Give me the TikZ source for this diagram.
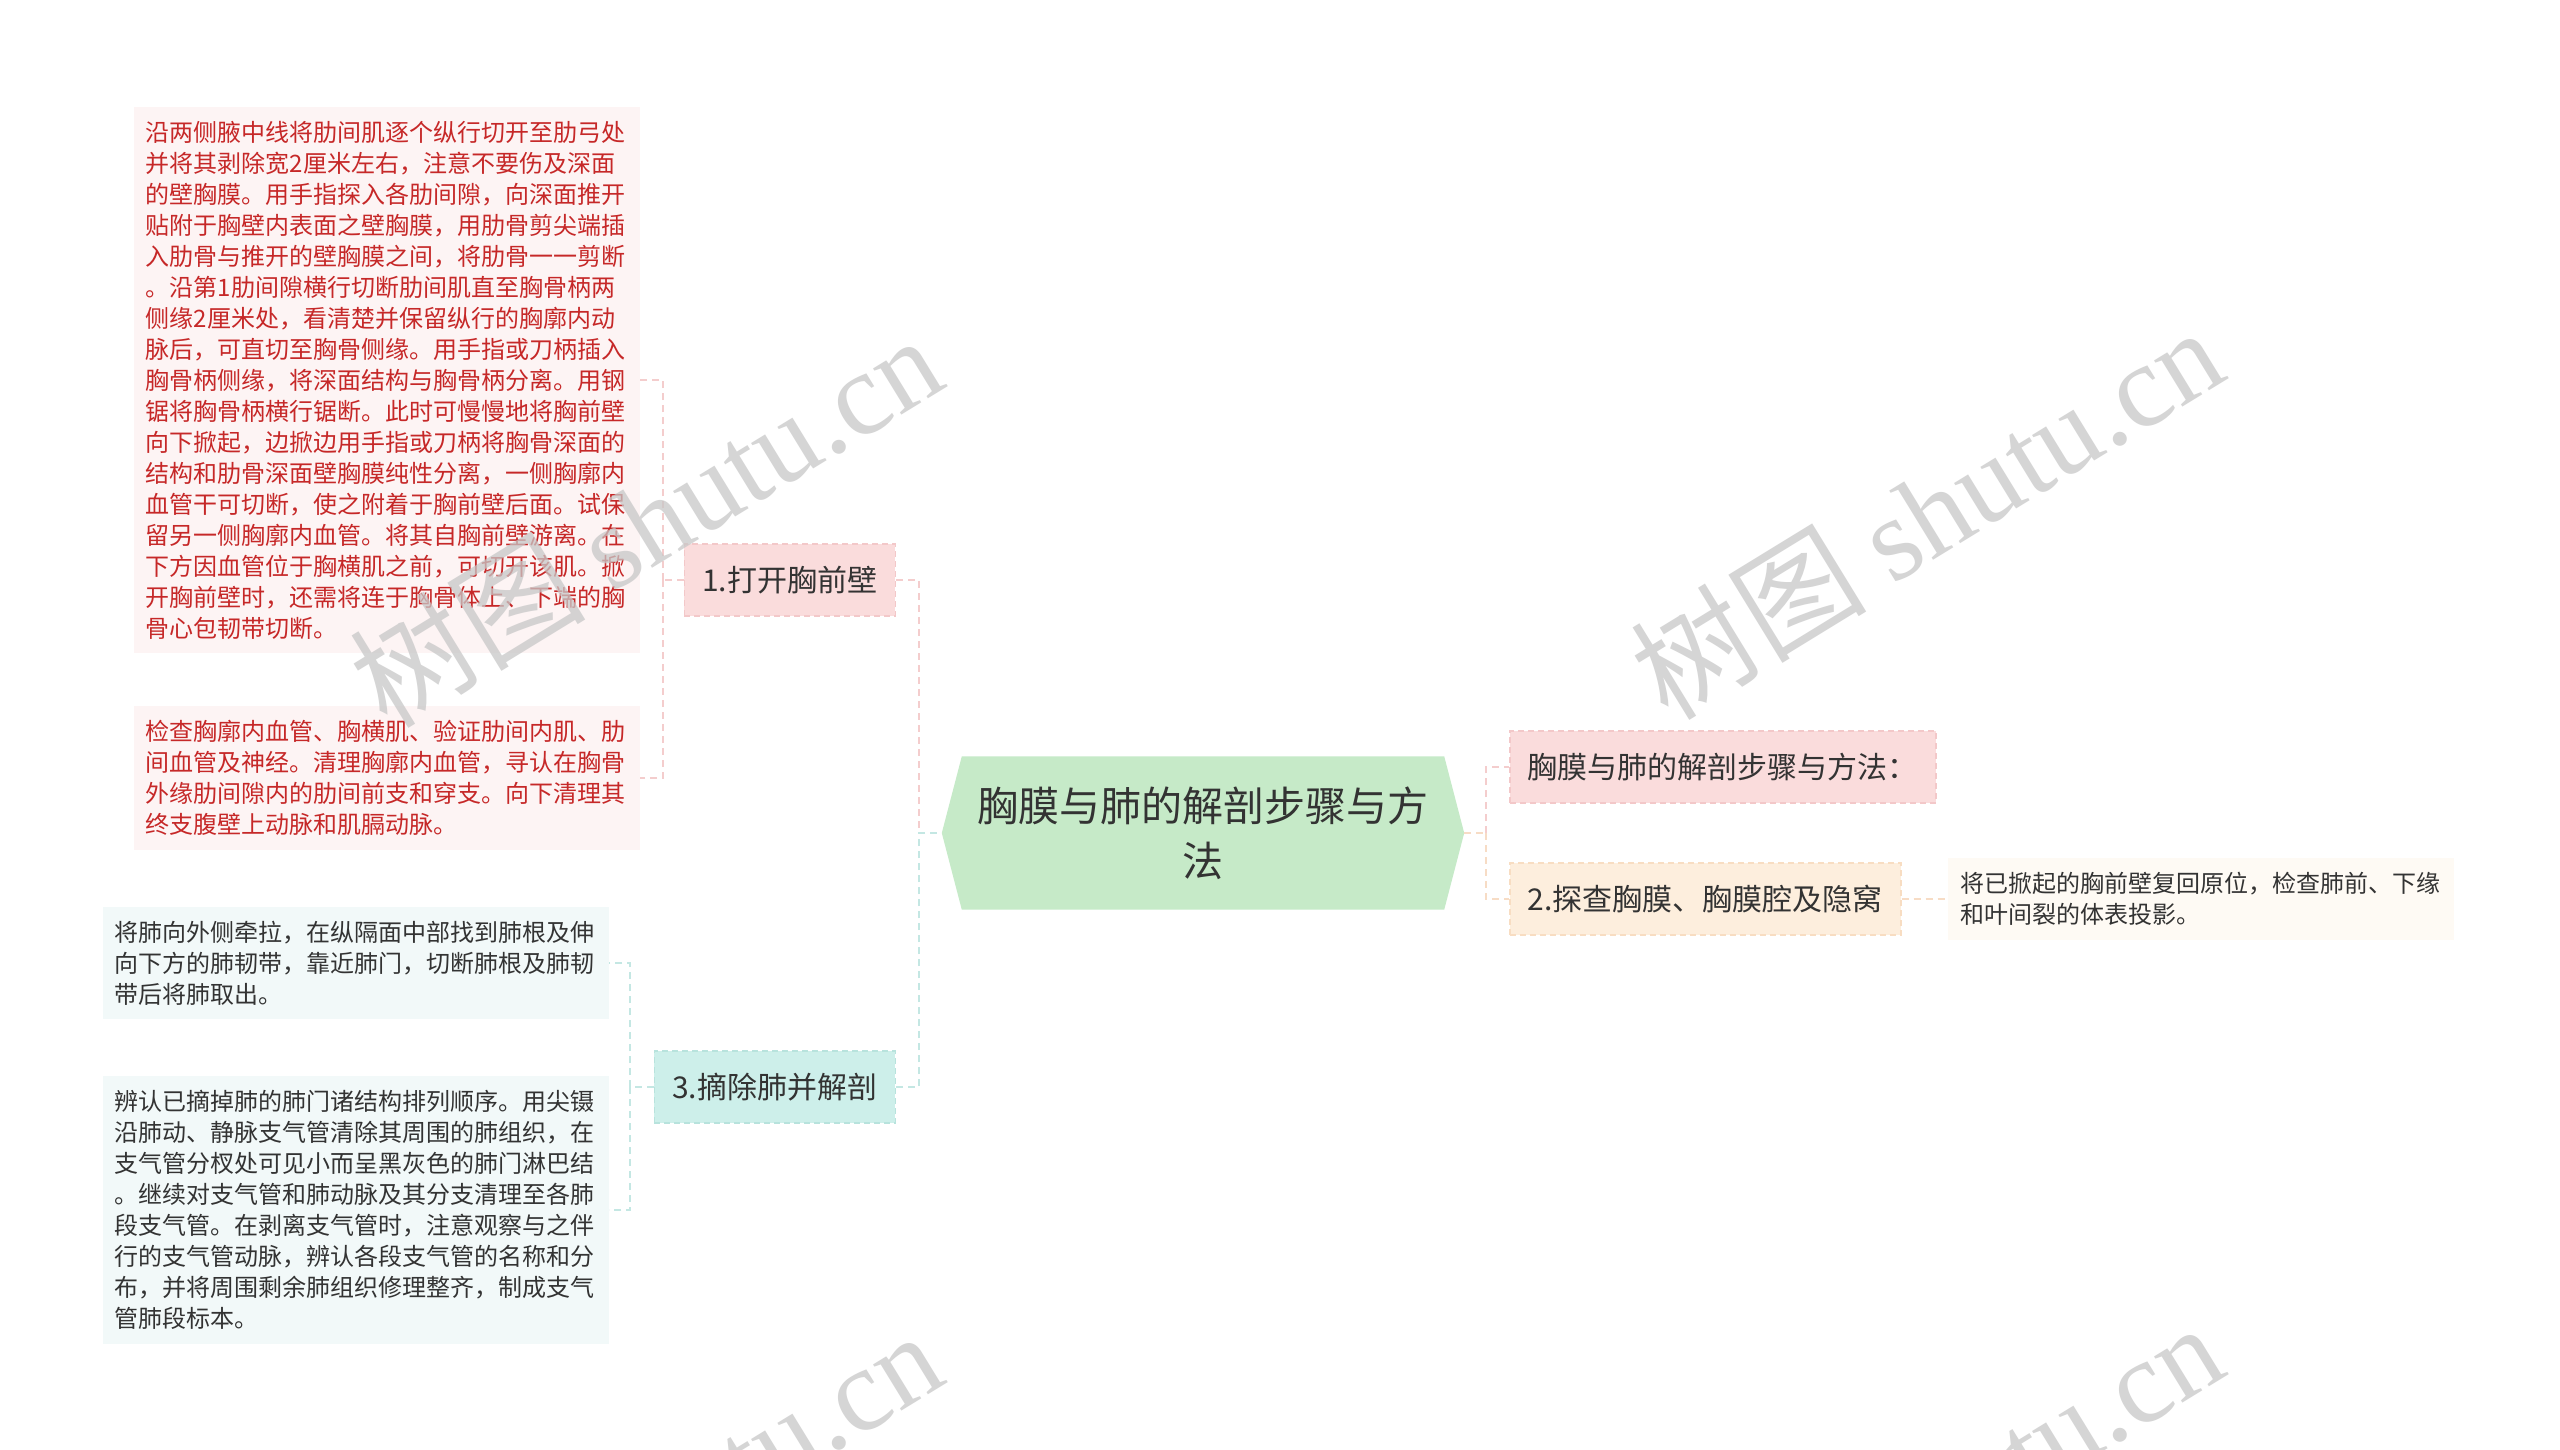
\documentclass[tikz,border=0pt]{standalone}
\usepackage{fontspec}
\setmainfont{Noto Sans CJK SC}
\newfontfamily\wmfont{Liberation Serif}
\usetikzlibrary{backgrounds}

\definecolor{redtext}{HTML}{C62828}
\definecolor{darktext}{HTML}{333333}
\definecolor{pinkfill}{HTML}{FADCDC}
\definecolor{pinkedge}{HTML}{F3C8C9}
\definecolor{tealfill}{HTML}{CDEFEA}
\definecolor{tealedge}{HTML}{B8E3DD}
\definecolor{peachfill}{HTML}{FDEEDD}
\definecolor{peachedge}{HTML}{F8DDC2}
\definecolor{greenfill}{HTML}{C6EAC8}
\definecolor{leafpink}{HTML}{FDF4F4}
\definecolor{leafteal}{HTML}{F2F9F9}
\definecolor{leafpeach}{HTML}{FEFAF4}
\definecolor{pinkline}{HTML}{F4CDCD}
\definecolor{tealline}{HTML}{C4E7E3}
\definecolor{peachline}{HTML}{F7DCC5}

\tikzset{
    leaf/.style={text width=482pt, align=left, inner xsep=12pt, inner ysep=14pt,
        font=\fontsize{24}{31}\selectfont},
    branch/.style={minimum height=72pt, inner xsep=18pt, text=darktext,
        font=\fontsize{30}{36}\selectfont, dashed, dash pattern=on 6pt off 4pt, line width=1.5pt},
    link/.style={line width=2pt, dash pattern=on 7pt off 5pt},
    wm/.style={rotate=31.5, text=black!22, text opacity=0.75,
        font=\fontsize{118}{118}\selectfont}
}

\begin{document}
\begin{tikzpicture}[x=1pt, y=-1pt]
        \useasboundingbox (0,0) rectangle (2560,1449);

        % Central topic
        \node[align=center, text=darktext, font=\fontsize{41}{55}\selectfont,
            minimum width=522pt, minimum height=153pt] (ctr) at (1203,833)
            {胸膜与肺的解剖步骤与方\\法};
        \begin{pgfonlayer}{background}
            \fill[white] (0,0) rectangle (2560,1449);
            \fill[greenfill] (ctr.west) -- ([xshift=20pt]ctr.north west)
                -- ([xshift=-20pt]ctr.north east) -- (ctr.east)
                -- ([xshift=-20pt]ctr.south east) -- ([xshift=20pt]ctr.south west) -- cycle;
        \end{pgfonlayer}

        % Branches
        \node[branch, anchor=east, fill=pinkfill, draw=pinkedge] (open) at (896,580) {1.打开胸前壁};
        \node[branch, anchor=east, fill=tealfill, draw=tealedge] (lung) at (896,1087) {3.摘除肺并解剖};
        \node[branch, anchor=west, fill=pinkfill, draw=pinkedge] (steps) at (1509,767) {胸膜与肺的解剖步骤与方法：};
        \node[branch, anchor=west, fill=peachfill, draw=peachedge] (pleura) at (1509,899) {2.探查胸膜、胸膜腔及隐窝};

        % Details
        \node[leaf, anchor=east, fill=leafpink, text=redtext] (wall) at (640,380) {沿两侧腋中线将肋间肌逐个纵行切开至肋弓处\\
并将其剥除宽2厘米左右，注意不要伤及深面\\
的壁胸膜。用手指探入各肋间隙，向深面推开\\
贴附于胸壁内表面之壁胸膜，用肋骨剪尖端插\\
入肋骨与推开的壁胸膜之间，将肋骨一一剪断\\
。沿第1肋间隙横行切断肋间肌直至胸骨柄两\\
侧缘2厘米处，看清楚并保留纵行的胸廓内动\\
脉后，可直切至胸骨侧缘。用手指或刀柄插入\\
胸骨柄侧缘，将深面结构与胸骨柄分离。用钢\\
锯将胸骨柄横行锯断。此时可慢慢地将胸前壁\\
向下掀起，边掀边用手指或刀柄将胸骨深面的\\
结构和肋骨深面壁胸膜纯性分离，一侧胸廓内\\
血管干可切断，使之附着于胸前壁后面。试保\\
留另一侧胸廓内血管。将其自胸前壁游离。在\\
下方因血管位于胸横肌之前，可切开该肌。掀\\
开胸前壁时，还需将连于胸骨体上、下端的胸\\
骨心包韧带切断。};
        \node[leaf, anchor=east, fill=leafpink, text=redtext] (vessel) at (640,778) {检查胸廓内血管、胸横肌、验证肋间内肌、肋\\
间血管及神经。清理胸廓内血管，寻认在胸骨\\
外缘肋间隙内的肋间前支和穿支。向下清理其\\
终支腹壁上动脉和肌膈动脉。};
        \node[leaf, anchor=east, fill=leafteal, text=darktext] (takeout) at (609,963) {将肺向外侧牵拉，在纵隔面中部找到肺根及伸\\
向下方的肺韧带，靠近肺门，切断肺根及肺韧\\
带后将肺取出。};
        \node[leaf, anchor=east, fill=leafteal, text=darktext] (hilum) at (609,1210) {辨认已摘掉肺的肺门诸结构排列顺序。用尖镊\\
沿肺动、静脉支气管清除其周围的肺组织，在\\
支气管分杈处可见小而呈黑灰色的肺门淋巴结\\
。继续对支气管和肺动脉及其分支清理至各肺\\
段支气管。在剥离支气管时，注意观察与之伴\\
行的支气管动脉，辨认各段支气管的名称和分\\
布，并将周围剩余肺组织修理整齐，制成支气\\
管肺段标本。};
        \node[leaf, anchor=west, fill=leafpeach, text=darktext] (reset) at (1948,899) {将已掀起的胸前壁复回原位，检查肺前、下缘\\
和叶间裂的体表投影。};

        % Connectors
        \coordinate (cL) at (919,833);
        \coordinate (cR) at (1486,833);
        \coordinate (cOpen) at (663,580);
        \coordinate (cLung) at (630,1087);
        \draw[link, pinkline] (open.east) -| (cL);
        \draw[link, tealline] (lung.east) -| (cL) -- (ctr.west);
        \draw[link, pinkline] (open.west) -- (cOpen);
        \draw[link, pinkline] (cOpen) |- (wall.east);
        \draw[link, pinkline] (cOpen) |- (vessel.east);
        \draw[link, tealline] (lung.west) -- (cLung);
        \draw[link, tealline] (cLung) |- (takeout.east);
        \draw[link, tealline] (cLung) |- (hilum.east);
        \draw[link, peachline] (ctr.east) -- (cR);
        \draw[link, pinkline] (cR) |- (steps.west);
        \draw[link, peachline] (cR) |- (pleura.west);
        \draw[link, peachline] (pleura.east) -- (reset.west);

        % Watermarks
        \begin{scope}
            \clip (0,0) rectangle (2560,1449);
            \node[wm] (wm1) at (645,520) {树图 {\wmfont shutu.cn}};
            \node[wm] (wm2) at (1926,512) {树图 {\wmfont shutu.cn}};
            \node[wm] (wm3) at (645,1516) {树图 {\wmfont shutu.cn}};
            \node[wm] (wm4) at (1926,1508) {树图 {\wmfont shutu.cn}};
        \end{scope}
    \end{tikzpicture}
\end{document}
